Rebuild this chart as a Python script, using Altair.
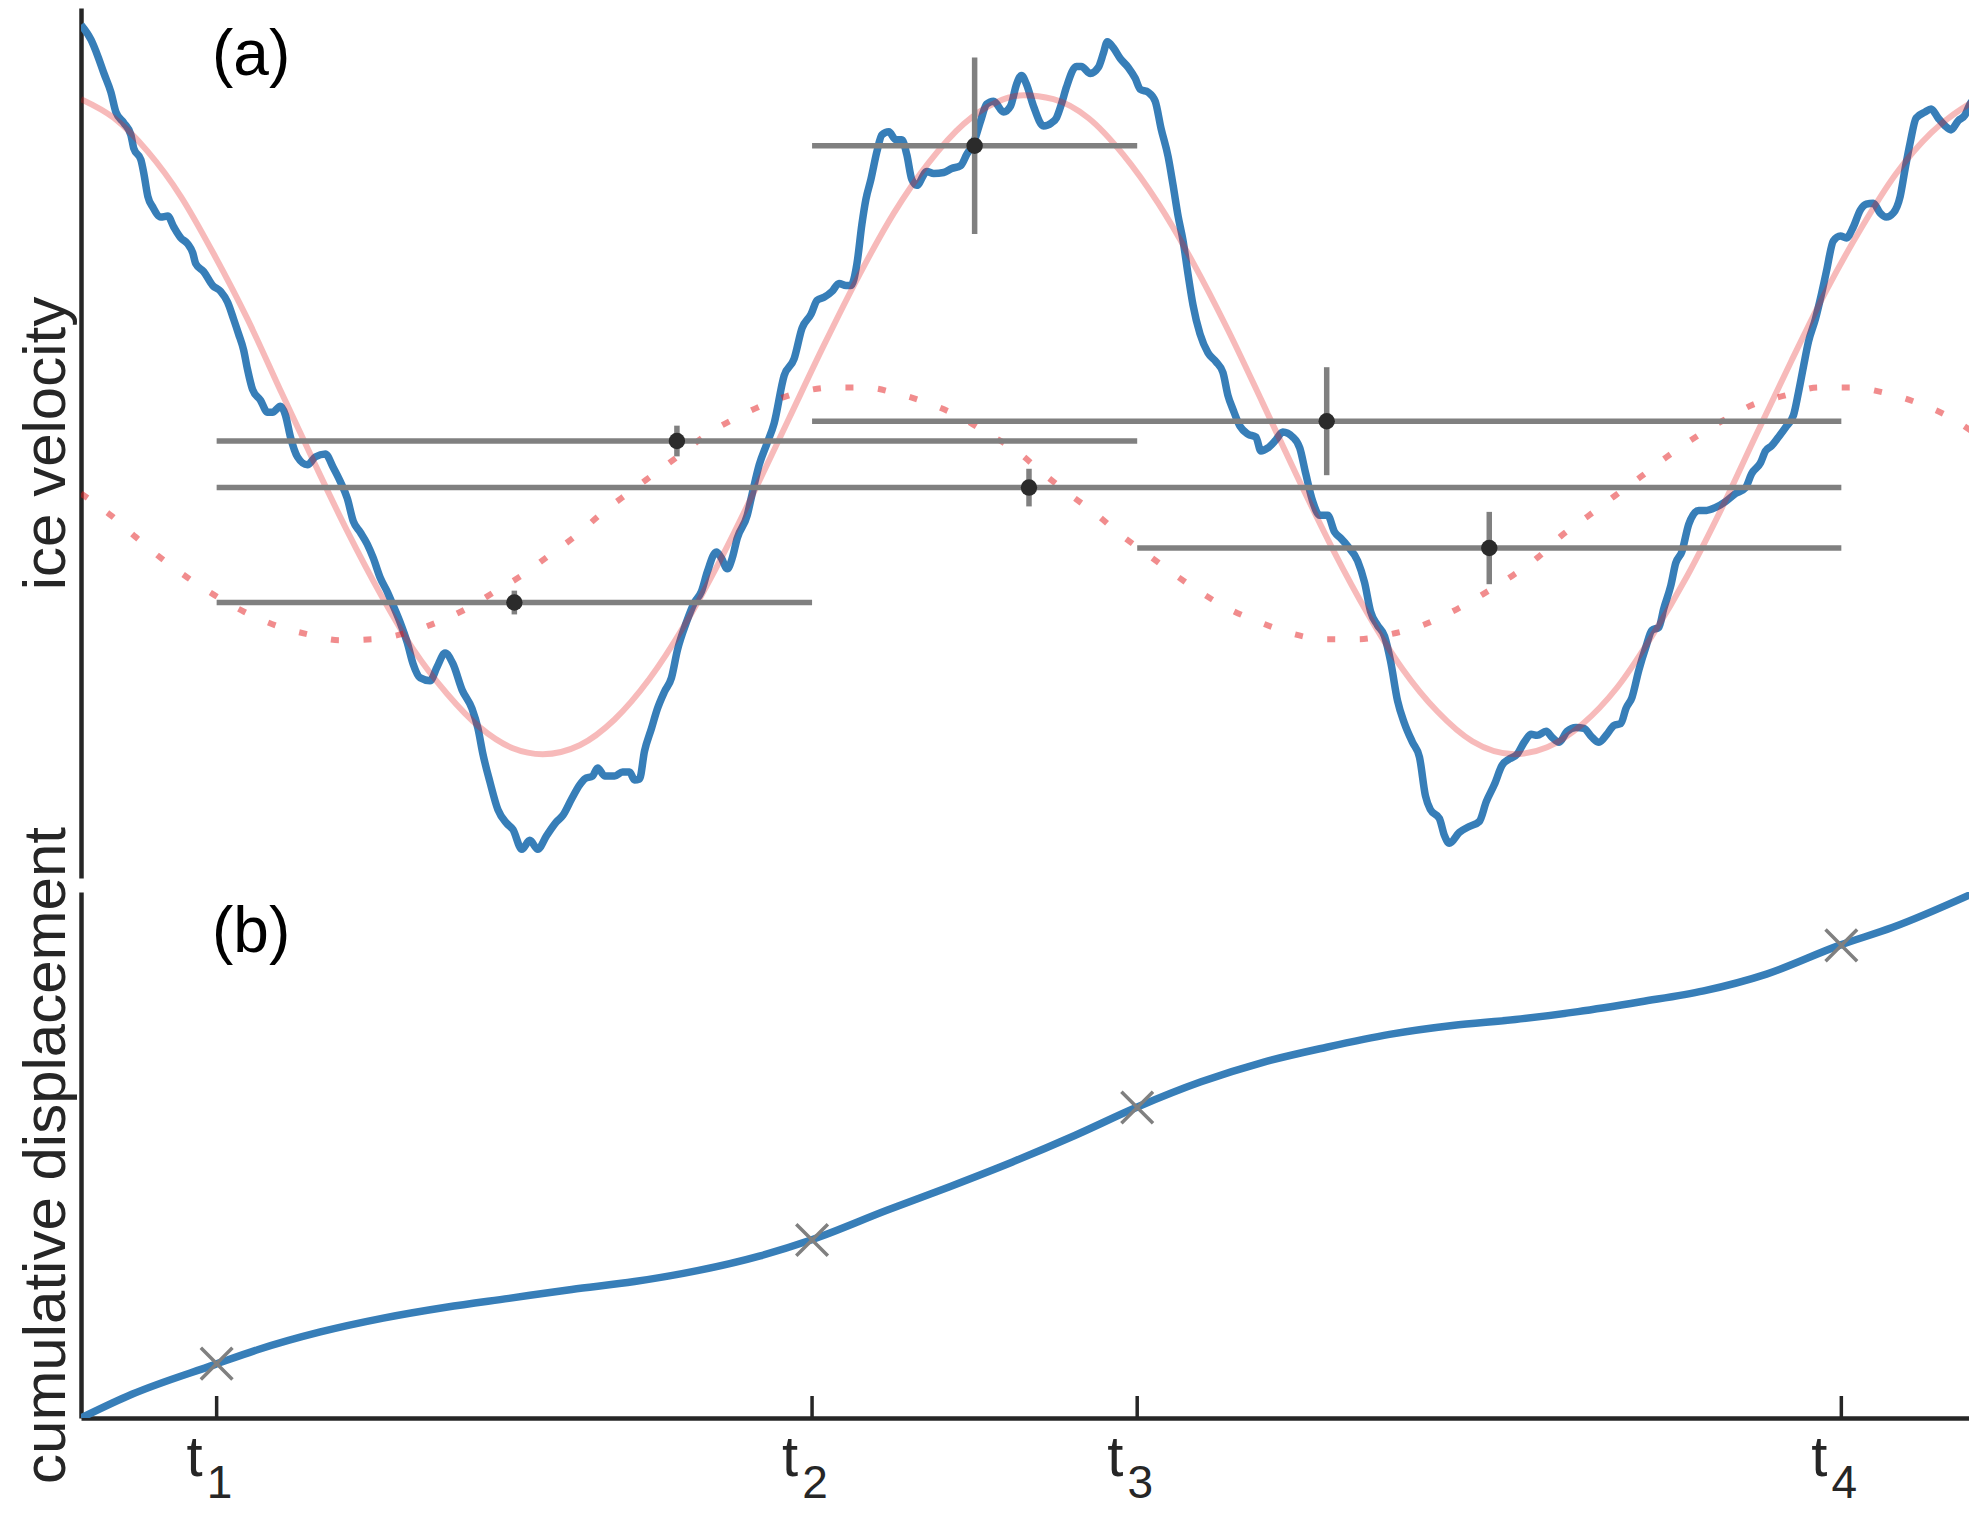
import altair as alt
import pandas as pd

FONT = "Liberation Sans"
DARK = "#262626"

# ---------------- data (time, value) ----------------
velocity = [
    (0.0, 86.1), (1.0, 84.6), (1.7, 82.9), (2.3, 81.2), (3.0, 79.3), (3.5, 77.3), (4.3, 76.2),
    (5.0, 75.0), (5.3, 73.6), (6.0, 72.5), (6.3, 71.1), (6.7, 68.8), (7.2, 67.7), (8.0, 66.7),
    (8.7, 66.8), (9.3, 65.7), (10.0, 64.6), (10.7, 64.0), (11.2, 63.1), (11.5, 62.0), (12.3, 61.2),
    (13.2, 59.8), (14.0, 59.2), (14.7, 58.1), (15.3, 56.4), (15.8, 54.9), (16.3, 53.3), (16.7, 51.3),
    (17.2, 49.3), (18.0, 48.2), (18.7, 47.0), (19.2, 47.0), (20.0, 47.6), (20.5, 46.7), (21.0, 44.5),
    (21.7, 42.5), (22.7, 41.7), (23.5, 42.5), (24.5, 42.8), (25.3, 41.4), (26.0, 40.0), (26.7, 38.3),
    (27.3, 36.0), (28.0, 34.9), (28.7, 33.7), (29.3, 32.3), (30.0, 30.3), (30.7, 28.9), (31.3, 27.5),
    (32.0, 25.8), (32.7, 23.8), (33.3, 21.6), (34.0, 20.2), (35.0, 19.9), (35.7, 21.3), (36.5, 22.7),
    (37.3, 21.6), (38.2, 19.0), (39.2, 17.1), (39.8, 15.1), (40.3, 12.5), (41.0, 9.7), (41.8, 6.9),
    (42.7, 5.5), (43.3, 4.9), (44.2, 2.9), (45.0, 3.8), (45.8, 2.9), (46.7, 4.3), (47.7, 5.7),
    (48.3, 6.3), (49.2, 8.0), (50.0, 9.4),
    (50.5, 10.0), (51.3, 10.3), (51.8, 11.1), (52.5, 10.3), (53.5, 10.3), (54.3, 10.7), (55.0, 10.7),
    (55.5, 9.9), (56.0, 10.0), (56.5, 12.8), (57.2, 15.1), (57.8, 17.1), (58.5, 18.8), (59.2, 20.2),
    (59.8, 23.0), (60.7, 25.8), (61.5, 27.8), (62.2, 28.9), (62.8, 30.9), (63.7, 32.9), (64.2, 32.3),
    (64.8, 31.2), (65.3, 32.3), (65.8, 34.3), (66.8, 36.6), (67.3, 38.8), (68.0, 41.7), (68.8, 43.9),
    (69.5, 45.9), (70.5, 50.7), (71.5, 52.4), (72.3, 55.5), (73.2, 56.9), (73.8, 58.3), (74.5, 58.6),
    (75.3, 59.2), (76.0, 60.0), (76.7, 59.8), (77.2, 59.8), (77.8, 62.0), (78.3, 66.0), (78.7, 68.5),
    (79.2, 70.5), (79.8, 73.3), (80.3, 75.0), (81.0, 75.3), (81.7, 74.5), (82.3, 74.5), (82.8, 73.0),
    (83.3, 70.5), (83.8, 69.9), (84.8, 71.3), (85.5, 71.1), (86.5, 71.2), (87.3, 71.6), (88.2, 71.9),
    (88.8, 73.0), (89.5, 74.2), (90.2, 76.4), (90.8, 78.1), (91.5, 78.4), (92.5, 77.3), (93.2, 77.9),
    (93.8, 80.1), (94.3, 81.0), (94.8, 80.1), (95.5, 77.9), (96.5, 75.9), (97.3, 76.2),
    (97.8, 76.7), (98.3, 78.1), (98.8, 79.8), (99.8, 81.9), (100.3, 81.9), (101.2, 81.2), (102.0, 81.8),
    (102.5, 83.2), (102.9, 84.4), (103.5, 83.8), (104.2, 82.7), (105.0, 81.8), (105.7, 80.7),
    (106.2, 79.6), (107.0, 79.3), (107.7, 78.4), (108.3, 75.6), (109.0, 72.8), (109.5, 69.9),
    (110.0, 66.8), (110.5, 64.3), (111.0, 60.9), (111.5, 57.8), (112.2, 54.9), (113.0, 53.0),
    (113.8, 52.1), (114.5, 51.0), (115.0, 48.7), (115.5, 47.3), (116.2, 45.6), (117.0, 44.8),
    (117.8, 44.5), (118.3, 43.1), (119.0, 43.4), (119.8, 44.2), (120.5, 45.0), (121.5, 44.5),
    (122.2, 43.4), (122.8, 40.8), (123.5, 38.0), (124.2, 36.6), (125.0, 36.6), (125.7, 34.9),
    (126.3, 34.3), (127.0, 33.5), (128.0, 32.0), (128.7, 29.8), (129.3, 26.9), (130.0, 25.5),
    (130.7, 24.4), (131.3, 21.9), (132.0, 17.9), (132.7, 15.6), (133.5, 13.7), (134.2, 12.2),
    (134.8, 8.3), (135.3, 6.9), (136.2, 6.0), (136.7, 4.3), (137.2, 3.5), (138.2, 4.6), (139.2, 5.2),
    (140.2, 5.7),
    (140.9, 7.7), (141.7, 9.4), (142.5, 11.4), (143.2, 12.0), (144.0, 12.5), (144.7, 13.7),
    (145.4, 14.5), (146.0, 14.4), (146.9, 14.8), (147.5, 14.2), (148.2, 13.7), (149.0, 14.8),
    (149.9, 15.2), (150.7, 15.1), (151.5, 14.2), (152.2, 13.7), (153.0, 14.5), (153.7, 15.4),
    (154.4, 15.6), (154.9, 17.1), (155.5, 18.2), (156.2, 21.0), (156.9, 23.3), (157.5, 25.0),
    (158.2, 25.3), (158.7, 27.2), (159.4, 29.5), (159.9, 31.8), (160.5, 32.9), (161.2, 35.7),
    (162.2, 37.1), (163.0, 37.1), (163.9, 37.4), (164.9, 38.0), (165.9, 38.8), (166.9, 39.4),
    (167.5, 40.8), (168.4, 41.9), (168.9, 43.1), (169.5, 43.6), (170.2, 44.5), (171.0, 45.6),
    (171.7, 46.7), (172.2, 49.0), (172.7, 51.6), (173.2, 54.1), (173.9, 56.4), (174.5, 58.9),
    (175.0, 61.2), (175.7, 64.3), (176.4, 64.8), (177.0, 64.6), (177.7, 65.7), (178.4, 67.4),
    (179.0, 68.0), (179.7, 68.1), (180.4, 67.1), (181.0, 66.7), (181.7, 67.1), (182.4, 68.8),
    (182.9, 71.6), (183.4, 74.2), (184.0, 76.7), (184.9, 77.3), (185.5, 77.6), (186.2, 76.7),
    (186.9, 75.9), (187.5, 75.5), (188.2, 76.4), (188.9, 77.0), (189.4, 78.1), (189.9, 78.7),
]

fitted = [
    (0.0, 78.6), (3.3, 76.7), (6.7, 73.3), (10.0, 68.8), (13.3, 63.0), (16.7, 56.4), (20.0, 49.2),
    (23.3, 42.1), (26.7, 35.0), (30.0, 28.7), (33.3, 23.1), (36.7, 18.6), (40.0, 15.2), (43.3, 13.1),
    (46.3, 12.5), (50.0, 13.4), (53.5, 16.0), (57.0, 20.1), (60.5, 25.5), (64.0, 31.9), (67.5, 39.0),
    (71.0, 46.4), (74.5, 53.8), (78.0, 60.8), (81.5, 67.1), (85.0, 72.2), (88.5, 76.1), (91.8, 78.3),
    (94.5, 79.0), (97.5, 78.6), (101.0, 76.7), (104.5, 73.0), (108.0, 68.1), (111.5, 62.1),
    (115.0, 55.3), (118.5, 47.9), (122.0, 40.4), (125.5, 33.2), (129.0, 26.7), (132.5, 21.1),
    (136.0, 16.8), (139.5, 13.8), (143.7, 12.5), (147.0, 13.2), (150.5, 15.5), (154.0, 19.2),
    (157.5, 24.4), (161.0, 30.4), (164.5, 37.3), (168.0, 44.8), (171.5, 52.2), (175.0, 59.3),
    (178.5, 65.6), (182.0, 71.1), (185.5, 75.2), (189.9, 78.5),
]

averaged = [
    (0.0, 38.8), (3.0, 36.6), (5.5, 34.4), (8.0, 32.3), (10.7, 30.3), (13.3, 28.6), (16.3, 26.9),
    (19.5, 25.5), (22.7, 24.6), (26.0, 24.0), (29.2, 24.1), (32.5, 24.7), (35.7, 25.8), (38.7, 27.2),
    (41.5, 28.9), (44.3, 30.6), (47.0, 32.6), (49.7, 34.6), (52.2, 36.8), (54.8, 38.8), (57.5, 40.8),
    (60.2, 42.8), (62.8, 44.8), (65.8, 46.5), (68.8, 47.9), (72.0, 49.0), (75.3, 49.5), (78.7, 49.5),
    (81.8, 48.9), (85.0, 47.9), (88.2, 46.5), (91.0, 44.8), (93.8, 43.1), (96.5, 40.8), (99.0, 38.8),
    (101.7, 36.8), (104.3, 34.6), (107.0, 32.6), (109.7, 30.6), (112.3, 28.8), (115.2, 27.1),
    (118.2, 25.8), (121.3, 24.7), (124.7, 24.1), (128.0, 24.1), (131.3, 24.6), (134.5, 25.5),
    (137.5, 26.9), (140.5, 28.6), (143.2, 30.3), (146.0, 32.3), (148.5, 34.6), (151.2, 36.6),
    (153.7, 38.5), (156.4, 40.5), (159.0, 42.5), (161.9, 44.5), (164.7, 46.2), (167.7, 47.8),
    (170.9, 48.7), (174.2, 49.5), (177.5, 49.5), (180.7, 49.0), (184.0, 48.0), (187.0, 46.7),
    (189.7, 45.0),
]

displacement = [
    (0.0, 0.0), (5.1, 2.4), (13.4, 5.4), (17.7, 6.9), (24.0, 8.7), (30.3, 10.1), (36.6, 11.2),
    (42.9, 12.1), (49.2, 13.0), (55.5, 13.8), (61.8, 14.9), (68.1, 16.4), (73.2, 18.0), (80.8, 21.0),
    (87.1, 23.4), (93.4, 25.9), (99.7, 28.6), (105.8, 31.4), (112.3, 34.0), (118.6, 36.0),
    (124.9, 37.5), (131.2, 38.8), (137.5, 39.7), (143.8, 40.3), (150.1, 41.1), (156.4, 42.1),
    (162.7, 43.2), (169.0, 44.9), (176.3, 47.8), (181.6, 49.6), (189.8, 53.1),
]

tick_t = [13.6, 73.3, 105.9, 176.5]
tick_sub = ["1", "2", "3", "4"]
cross_d = [5.5, 18.0, 31.4, 47.8]

pair_i = [0, 0, 0, 1, 1, 2]
pair_j = [1, 2, 3, 2, 3, 3]
pair_v = [27.8, 44.1, 39.4, 73.9, 46.1, 33.3]
pair_e = [1.2, 1.55, 1.9, 8.9, 5.45, 3.65]

# ---------------- tables ----------------
vel_df = pd.DataFrame(velocity, columns=["t", "v"])
fit_df = pd.DataFrame(fitted, columns=["t", "v"])
avg_df = pd.DataFrame(averaged, columns=["t", "v"])
disp_df = pd.DataFrame(displacement, columns=["t", "d"])
tick_df = pd.DataFrame({"t": tick_t, "sub": tick_sub, "d": cross_d})
pair_df = pd.DataFrame({
    "t0": [tick_t[i] for i in pair_i],
    "t1": [tick_t[j] for j in pair_j],
    "v": pair_v,
    "e": pair_e,
})

W, HA, HB = 1888, 870, 526

xs = alt.Scale(domain=[0, 189.3], nice=False, zero=False)
ya = alt.Scale(domain=[0, 87.8], nice=False, zero=False)
yb = alt.Scale(domain=[0, 53.2], nice=False, zero=False)


def yaxis(title):
    return alt.Axis(
        title=title, labels=False, ticks=False, grid=False, domain=True,
        domainColor=DARK, domainWidth=4.5, titleFont=FONT, titleFontSize=60,
        titleFontWeight="normal", titleColor=DARK, titlePadding=4,
        titleLimit=2000, minExtent=0,
    )


ax_a = yaxis("ice velocity")
ax_b = yaxis("cumulative displacement")
xa = dict(scale=xs, axis=None)
xb_axis = alt.Axis(title=None, labels=False, ticks=False, grid=False, domain=True,
                   domainColor=DARK, domainWidth=4.5)

# ---------------- panel (a) ----------------
blue = alt.Chart(vel_df).mark_line(
    color="#377eb8", strokeWidth=7.5, interpolate="monotone", strokeJoin="round", clip=True
).encode(x=alt.X("t:Q", **xa), y=alt.Y("v:Q", scale=ya, axis=ax_a))

fit = alt.Chart(fit_df).mark_line(
    color="#e41a1c", opacity=0.3, strokeWidth=6, interpolate="monotone", clip=True
).encode(x=alt.X("t:Q", **xa), y=alt.Y("v:Q", scale=ya, axis=ax_a))

avg = alt.Chart(avg_df).mark_line(
    color="#e41a1c", opacity=0.5, strokeWidth=6, strokeDash=[8, 24.6],
    interpolate="monotone", strokeCap="butt", clip=True
).encode(x=alt.X("t:Q", **xa), y=alt.Y("v:Q", scale=ya, axis=ax_a))

hbars = alt.Chart(pair_df).mark_rule(color="#808080", strokeWidth=5.5).encode(
    x=alt.X("t0:Q", **xa), x2="t1:Q", y=alt.Y("v:Q", scale=ya, axis=ax_a)
)

vbars = alt.Chart(pair_df).transform_calculate(
    tm="(datum.t0 + datum.t1) / 2", lo="datum.v - datum.e", hi="datum.v + datum.e"
).mark_rule(color="#808080", strokeWidth=5.5).encode(
    x=alt.X("tm:Q", **xa), y=alt.Y("lo:Q", scale=ya, axis=ax_a), y2="hi:Q"
)

dots = alt.Chart(pair_df).transform_calculate(
    tm="(datum.t0 + datum.t1) / 2"
).mark_circle(size=270, color="#2b2b2b", opacity=1).encode(
    x=alt.X("tm:Q", **xa), y=alt.Y("v:Q", scale=ya, axis=ax_a)
)

lab_a = alt.Chart(pd.DataFrame({"s": ["(a)"]})).mark_text(
    font=FONT, fontSize=64, color="black", align="left", baseline="alphabetic"
).encode(x=alt.value(131), y=alt.value(67), text="s:N")

panel_a = alt.layer(blue, fit, avg, hbars, vbars, dots, lab_a).properties(width=W, height=HA)

# ---------------- panel (b) ----------------
disp = alt.Chart(disp_df).mark_line(
    color="#377eb8", strokeWidth=7.5, interpolate="monotone", clip=True
).encode(x=alt.X("t:Q", scale=xs, axis=xb_axis), y=alt.Y("d:Q", scale=yb, axis=ax_b))

crosses = alt.Chart(tick_df).mark_point(
    shape="M-1,-1L1,1M-1,1L1,-1", size=1000, color="#808080", strokeWidth=3.5,
    filled=False, opacity=1
).encode(x=alt.X("t:Q", scale=xs, axis=xb_axis), y=alt.Y("d:Q", scale=yb, axis=ax_b))

ticks = alt.Chart(tick_df).mark_rule(color=DARK, strokeWidth=3.5).encode(
    x=alt.X("t:Q", scale=xs, axis=xb_axis), y=alt.value(HB), y2=alt.value(HB - 22)
)

t_labels = alt.Chart(tick_df).mark_text(
    text="t", font=FONT, fontSize=58, color=DARK, align="center",
    baseline="alphabetic", dx=-22
).encode(x=alt.X("t:Q", scale=xs, axis=xb_axis), y=alt.value(HB + 58))

sub_labels = alt.Chart(tick_df).mark_text(
    font=FONT, fontSize=46, color=DARK, align="center", baseline="alphabetic", dx=3
).encode(x=alt.X("t:Q", scale=xs, axis=xb_axis), y=alt.value(HB + 80), text="sub:N")

lab_b = alt.Chart(pd.DataFrame({"s": ["(b)"]})).mark_text(
    font=FONT, fontSize=64, color="black", align="left", baseline="alphabetic"
).encode(x=alt.value(131), y=alt.value(60), text="s:N")

panel_b = alt.layer(disp, crosses, ticks, t_labels, sub_labels, lab_b).properties(width=W, height=HB)

chart = alt.vconcat(panel_a, panel_b, spacing=14, bounds="flush").properties(
    padding={"left": 7, "top": 0, "right": 0, "bottom": 0}, background="white"
).configure_view(stroke=None)

chart.save("out.html", embed_options={"renderer": "svg", "actions": False})
